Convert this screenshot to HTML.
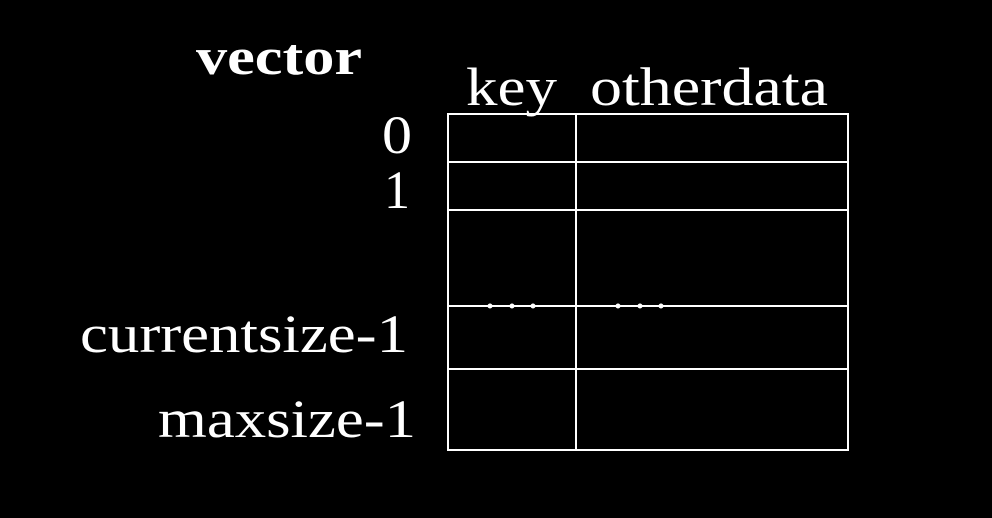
<!DOCTYPE html>
<html><head><style>
body{margin:0;background:#000;width:992px;height:518px;overflow:hidden}
svg{display:block}
text{font-family:"Liberation Serif",serif;fill:#fff}
</style></head><body>
<svg width="992" height="518" viewBox="0 0 992 518">
<rect width="992" height="518" fill="#000"/>
<g stroke="#fff" stroke-width="2" fill="none">
<rect x="448" y="114" width="400" height="336"/>
<line x1="576" y1="114" x2="576" y2="450"/>
<line x1="448" y1="162" x2="848" y2="162"/>
<line x1="448" y1="210" x2="848" y2="210"/>
<line x1="448" y1="306" x2="848" y2="306"/>
<line x1="448" y1="369" x2="848" y2="369"/>
</g>
<g fill="#fff">
<circle cx="490" cy="306" r="2.5"/><circle cx="512" cy="306" r="2.5"/><circle cx="533" cy="306" r="2.5"/>
<circle cx="618" cy="306" r="2.5"/><circle cx="640" cy="306" r="2.5"/><circle cx="661" cy="306" r="2.5"/>
</g>
<text x="196" y="74" font-size="52" font-weight="bold" textLength="166" lengthAdjust="spacingAndGlyphs">vector</text>
<text x="466" y="105" font-size="54" textLength="91" lengthAdjust="spacingAndGlyphs">key</text>
<text x="590" y="105" font-size="54" textLength="238" lengthAdjust="spacingAndGlyphs">otherdata</text>
<text x="382" y="153" font-size="54" textLength="30" lengthAdjust="spacingAndGlyphs">0</text>
<text x="384" y="208" font-size="54" textLength="26" lengthAdjust="spacingAndGlyphs">1</text>
<text x="80" y="352" font-size="54" textLength="328" lengthAdjust="spacingAndGlyphs">currentsize-1</text>
<text x="158" y="437" font-size="54" textLength="258" lengthAdjust="spacingAndGlyphs">maxsize-1</text>
</svg>
</body></html>
